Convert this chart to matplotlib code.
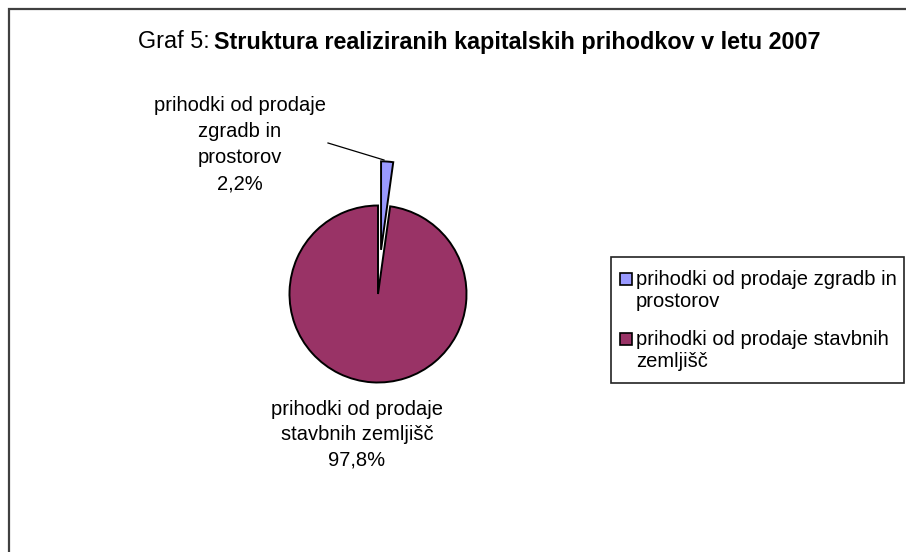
import matplotlib
matplotlib.use("Agg")
import matplotlib.pyplot as plt
from matplotlib.patches import Rectangle
from matplotlib.lines import Line2D

# ---- data ----
categories = ["prihodki od prodaje zgradb in prostorov",
              "prihodki od prodaje stavbnih zemljišč"]
values = [2.2, 97.8]
pie_label_lines = [["prihodki od prodaje", "zgradb in", "prostorov"],
                   ["prihodki od prodaje", "stavbnih zemljišč"]]
legend_label_lines = [["prihodki od prodaje zgradb in", "prostorov"],
                      ["prihodki od prodaje stavbnih", "zemljišč"]]
colors = ["#9999FF", "#993366"]
title_regular = "Graf 5: "
title_bold = "Struktura realiziranih kapitalskih prihodkov v letu 2007"

W, H = 906, 552
plt.rcParams['font.family'] = ['Liberation Sans', 'DejaVu Sans']
fig = plt.figure(figsize=(W / 100, H / 100), dpi=100)
fig.patch.set_facecolor("white")


def fx(px):
    return px / W


def fy(py):
    return 1 - py / H


# outer chart border (extends beyond right/bottom edges)
fig.patches.append(Rectangle((fx(9), fy(570)), fx(930), fy(9) - fy(570),
                             transform=fig.transFigure, fill=False,
                             edgecolor="#404040", linewidth=1.6))

# title
FS_T = 16.8
t1 = fig.text(fx(138), fy(42), title_regular, fontsize=FS_T, va="center", ha="left")
fig.canvas.draw()
bb = t1.get_window_extent()
fig.text(bb.x1 / W - 2 / W, fy(42), title_bold, fontsize=FS_T, fontweight="bold",
         va="center", ha="left")

# pie
cx, cy, r = 378, 294, 88.5
ax = fig.add_axes([fx(cx - r), fy(cy + r), 2 * r / W, 2 * r / H])
wedges, _ = ax.pie(values, colors=colors, startangle=90, counterclock=False,
                   explode=[0.5, 0], radius=1,
                   wedgeprops=dict(edgecolor="black", linewidth=1.4))
for w in wedges:
    w.set_clip_on(False)
ax.set_xlim(-1, 1)
ax.set_ylim(-1, 1)
ax.set_aspect("auto")
ax.axis("off")

# pie labels
FS = 14.5


def fmt(v):
    return f"{v:.1f}".replace(".", ",") + "%"


label_pos = [(240, 111, 26), (357, 415, 25)]
for lines, v, (x, y0, step) in zip(pie_label_lines, values, label_pos):
    for i, line in enumerate(lines + [fmt(v)]):
        fig.text(fx(x), fy(y0 + i * step), line, fontsize=FS, ha="center",
                 va="baseline")

# leader line
fig.lines.append(Line2D([fx(328), fx(384)], [fy(143), fy(160)],
                        transform=fig.transFigure, color="black", linewidth=0.9))

# legend
fig.patches.append(Rectangle((fx(611), fy(383)), fx(904) - fx(611), fy(257) - fy(383),
                             transform=fig.transFigure, fill=False,
                             edgecolor="#222222", linewidth=1.2))
leg_pos = [(273, 285), (333, 345)]
for lines, c, (sq_top, base) in zip(legend_label_lines, colors, leg_pos):
    fig.patches.append(Rectangle((fx(620), fy(sq_top + 12)), 12 / W, 12 / H,
                                 transform=fig.transFigure, facecolor=c,
                                 edgecolor="black", linewidth=1.2))
    for i, line in enumerate(lines):
        fig.text(fx(636), fy(base + i * 22), line, fontsize=FS, ha="left",
                 va="baseline")

fig.savefig("out.png", dpi=100)
